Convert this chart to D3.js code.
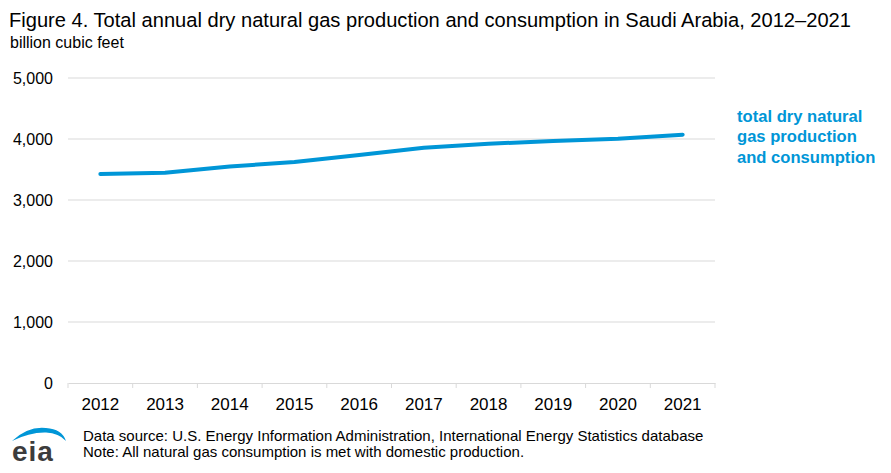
<!DOCTYPE html>
<html><head><meta charset="utf-8">
<script src="https://cdn.jsdelivr.net/npm/d3@7"></script>
<style>body{margin:0;background:#fff;}svg{display:block;font-family:"Liberation Sans",Arial,sans-serif;}</style>
</head><body><svg id="c" width="891" height="473"></svg>
<script>
const years = ["2012","2013","2014","2015","2016","2017","2018","2019","2020","2021"];
const values = [3426, 3448, 3550, 3622, 3738, 3857, 3922, 3968, 4006, 4070];
const yTicks = [0, 1000, 2000, 3000, 4000, 5000];
const seriesLabel = ["total dry natural", "gas production", "and consumption"];

(function () {
const svg = d3.select("#c");
const blue = "#0096d7";
const pL = 68, pR = 715, pT = 78, pB = 383;
const x = d3.scaleBand().domain(years).range([pL, pR]);
const y = d3.scaleLinear().domain([0, 5000]).range([pB, pT]);

svg.append("text").attr("x", 9).attr("y", 27).attr("font-size", 20.1).attr("fill", "#000")
  .text("Figure 4. Total annual dry natural gas production and consumption in Saudi Arabia, 2012\u20132021");
svg.append("text").attr("x", 10).attr("y", 48).attr("font-size", 16).attr("fill", "#000").text("billion cubic feet");

// gridlines
svg.append("g").selectAll("line").data(yTicks.filter(d => d > 0)).join("line")
  .attr("x1", pL).attr("x2", pR).attr("y1", d => y(d)).attr("y2", d => y(d))
  .attr("stroke", "#d9d9d9").attr("stroke-width", 1);

// y axis labels
const ya = svg.append("g").attr("transform", `translate(${pL},0)`)
  .call(d3.axisLeft(y).tickValues(yTicks).tickFormat(d3.format(",")).tickSize(0).tickPadding(15));
ya.select(".domain").remove();
ya.selectAll("text").attr("font-size", 16).attr("fill", "#000").attr("font-family", "Liberation Sans, Arial, sans-serif");

// x axis
const xa = svg.append("g").attr("transform", `translate(0,${pB})`)
  .call(d3.axisBottom(x).tickSize(0).tickPadding(12));
xa.select(".domain").attr("stroke", "#d9d9d9");
xa.selectAll("text").attr("font-size", 17).attr("fill", "#000").attr("font-family", "Liberation Sans, Arial, sans-serif").attr("dy", "0.9em");
const bounds = years.map(d => x(d)).concat([pR]);
svg.append("g").selectAll("line").data(bounds).join("line")
  .attr("x1", d => d).attr("x2", d => d).attr("y1", pB).attr("y2", pB + 5)
  .attr("stroke", "#d9d9d9");

// line
const line = d3.line().x((d, i) => x(years[i]) + x.bandwidth() / 2).y(d => y(d));
svg.append("path").datum(values).attr("d", line).attr("fill", "none")
  .attr("stroke", blue).attr("stroke-width", 4).attr("stroke-linecap", "round").attr("stroke-linejoin", "round");

// label
svg.append("g").selectAll("text").data(seriesLabel).join("text")
  .attr("x", 737).attr("y", (d, i) => 121.5 + i * 20.5).attr("font-size", 16.6).attr("font-weight", "bold")
  .attr("fill", blue).text(d => d);

// footer
svg.append("text").attr("x", 83).attr("y", 441).attr("font-size", 15).attr("fill", "#000")
  .text("Data source: U.S. Energy Information Administration, International Energy Statistics database");
svg.append("text").attr("x", 83).attr("y", 457).attr("font-size", 15).attr("fill", "#000")
  .text("Note: All natural gas consumption is met with domestic production.");

// eia logo
svg.append("path")
  .attr("d", "M12,441 Q28,426 46,428 Q62,429 66,441 Q59,433 46,432.5 Q30,432 12,441 Z")
  .attr("fill", blue);
svg.append("text").attr("x", 12).attr("y", 461).attr("font-size", 28).attr("font-weight", "bold")
  .attr("fill", "#3c3c3c").attr("letter-spacing", 1).text("eia");
})();
</script></body></html>
